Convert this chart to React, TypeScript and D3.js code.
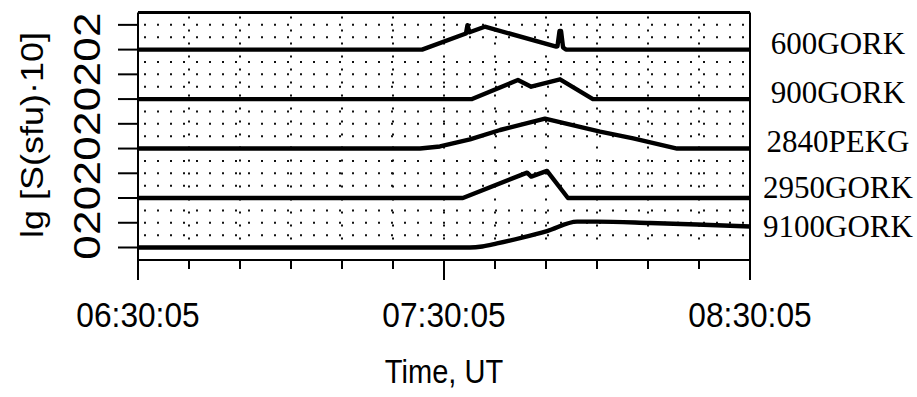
import React from "react";
import * as d3 from "d3";

// Minutes after 06:30:05 UT
const timeTicks = [0, 60, 120];
const timeTickLabels = ["06:30:05", "07:30:05", "08:30:05"];
const minorStep = 10;

// Station records: lg of flux (relative to each trace's own zero level)
const names = ["600GORK", "900GORK", "2840PEKG", "2950GORK", "9100GORK"];

const t600 = [0, 55.7, 64.3, 64.6, 65.0, 68.0, 82.0, 82.25, 82.65, 82.95, 83.35, 83.9, 120];
const v600 = [0, 0, 1.3, 1.98, 1.4, 1.85, 0.25, 0.27, 1.5, 1.5, 0.17, 0, 0];

const t900 = [0, 65.5, 74.5, 77.1, 82.75, 89.2, 120];
const v900 = [0, 0, 1.54, 1.0, 1.6, 0, 0];

const t2840 = [0, 55.3, 59.2, 65.1, 71.0, 79.8, 90.6, 97.1, 105.7, 120];
const v2840 = [0, 0, 0.17, 0.74, 1.5, 2.42, 1.37, 0.83, 0, 0];

const t2950 = [0, 63.7, 76.3, 77.1, 80.2, 84.3, 120];
const v2950 = [0, 0, 2.05, 1.73, 2.19, 0, 0];

const t9100 = [0, 65.1, 67.5, 70.4, 75.3, 80.2, 86.1, 90.0, 100.4, 109.6, 120];
const v9100 = [0, 0, 0.08, 0.33, 0.8, 1.33, 2.09, 2.09, 1.98, 1.86, 1.7];

const seriesTimes = [t600, t900, t2840, t2950, t9100];
const seriesValues = [v600, v900, v2840, v2950, v9100];

// Each trace is shifted by 4 decades of the common axis
const panelStep = 4;
const yMax = 19;
// Station name placement on the common axis
const labelLevels = [15.64, 11.68, 7.72, 4.0, 0.85];
const yTickValues = d3.range(0, 19, 2);
// traces drawn with a smooth rise
const smoothTraces = ["9100GORK"];

const W = 917;
const H = 397;
const left = 138;
const right = 750;
const top = 12.5;
const bottom = 247.5;
const axisY = 260;

export default function App() {
  const x = d3.scaleLinear().domain([0, 120]).range([left, right]);
  const y = d3.scaleLinear().domain([0, yMax]).range([bottom, top]);

  const n = names.length;
  const traces = names.map((name, i) => {
    const base = panelStep * (n - 1 - i);
    const pts: [number, number][] = seriesTimes[i].map((t, k) => [t, seriesValues[i][k] + base]);
    const line = d3
      .line<[number, number]>()
      .x((d) => x(d[0]))
      .y((d) => y(d[1]))
      .curve(smoothTraces.includes(name) ? d3.curveMonotoneX : d3.curveLinear);
    return { name, base, path: line(pts) || "" };
  });

  const gridX = d3.range(minorStep, 120, minorStep);
  const gridY = d3.range(1, yMax).filter((v) => v % panelStep !== 0);
  const minorTicks = d3.range(0, 121, minorStep);

  const sans = "'Liberation Sans', Arial, Helvetica, sans-serif";
  const serif = "'Liberation Serif', 'Times New Roman', serif";

  return (
    <svg
      width={W}
      height={H}
      viewBox={`0 0 ${W} ${H}`}
      style={{ position: "absolute", left: 0, top: 0, background: "#fff" }}
    >
      <rect x={0} y={0} width={W} height={H} fill="#fff" />

      {/* dotted grid */}
      <g stroke="#111" strokeWidth={2} strokeDasharray="2 11">
        {gridX.map((t) => (
          <line key={"gx" + t} x1={x(t)} x2={x(t)} y1={top + 4} y2={bottom} />
        ))}
        {gridY.map((v) => (
          <line key={"gy" + v} x1={left + 6} x2={right - 2} y1={y(v)} y2={y(v)} />
        ))}
      </g>

      {/* frame */}
      <line x1={left} x2={right} y1={top} y2={top} stroke="#000" strokeWidth={2.8} />
      <line x1={left} x2={left} y1={top} y2={axisY + 20} stroke="#000" strokeWidth={2} />
      <line x1={right} x2={right} y1={top} y2={axisY + 20} stroke="#000" strokeWidth={2} />

      {/* y ticks */}
      {yTickValues.map((v) => (
        <line key={"yt" + v} x1={left - 20} x2={left} y1={y(v)} y2={y(v)} stroke="#000" strokeWidth={2} />
      ))}
      {yTickValues.map((v) => (
        <text
          key={"yl" + v}
          transform={`translate(100,${y(v)}) scale(0.85,1) rotate(-90)`}
          textAnchor="middle"
          fontFamily={sans}
          fontSize={44}
          fill="#000"
        >
          {(v % panelStep).toString()}
        </text>
      ))}
      <text
        transform={`translate(43,${(top + bottom) / 2 + 5}) scale(0.85,1) rotate(-90)`}
        textAnchor="middle"
        fontFamily={sans}
        fontSize={36}
        fill="#000"
      >
        lg [S(sfu)·10]
      </text>

      {/* x axis */}
      <line x1={left} x2={right} y1={axisY} y2={axisY} stroke="#000" strokeWidth={2.2} />
      {minorTicks.map((t) => (
        <line
          key={"xt" + t}
          x1={x(t)}
          x2={x(t)}
          y1={axisY}
          y2={timeTicks.includes(t) ? axisY + 20 : axisY + 9}
          stroke="#000"
          strokeWidth={2}
        />
      ))}
      {timeTicks.map((t, i) => (
        <text
          key={"xl" + t}
          transform={`translate(${x(t)},327) scale(0.88,1)`}
          textAnchor="middle"
          fontFamily={sans}
          fontSize={36}
          fill="#000"
        >
          {timeTickLabels[i]}
        </text>
      ))}
      <text
        transform={`translate(${x(60)},383) scale(0.88,1)`}
        textAnchor="middle"
        fontFamily={sans}
        fontSize={33}
        fill="#000"
      >
        Time, UT
      </text>

      {/* traces */}
      {traces.map((tr) => (
        <path
          key={tr.name}
          d={tr.path}
          fill="none"
          stroke="#000"
          strokeWidth={4.4}
          strokeLinejoin="round"
          strokeLinecap="butt"
        />
      ))}

      {/* station names */}
      {traces.map((tr, i) => (
        <text
          key={"n" + tr.name}
          x={838}
          y={y(labelLevels[i])}
          textAnchor="middle"
          fontFamily={serif}
          fontSize={31}
          fill="#000"
        >
          {tr.name}
        </text>
      ))}
    </svg>
  );
}
